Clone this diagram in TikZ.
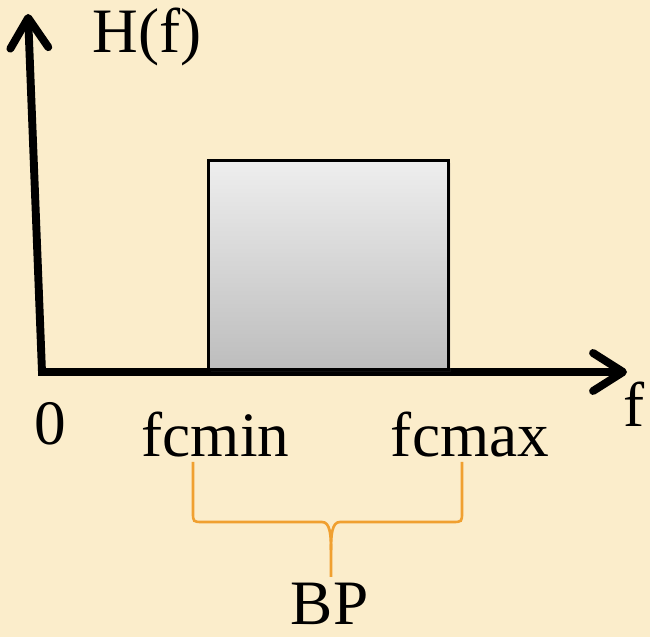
\documentclass[tikz,border=0pt]{standalone}
\usepackage{fontspec}
\setmainfont{Liberation Serif}
\usetikzlibrary{arrows.meta, positioning, calc, shadows}
\definecolor{bgcream}{HTML}{FBEDCB}
\definecolor{boxtop}{HTML}{EEEEEE}
\definecolor{boxbot}{HTML}{BDBDBD}
\definecolor{braceorange}{HTML}{F0A030}

\tikzset{
  lbl/.style={font=\fontsize{36}{40}\selectfont, inner sep=0pt, anchor=base},
  axisline/.style={black, line width=4.5pt, line join=miter},
  braceline/.style={braceorange, line width=1.5pt},
}

\begin{document}
\begin{tikzpicture}[>={Straight Barb[length=0.6cm, width=0.76cm, round]}]

% Background
\fill[bgcream] (0,0) rectangle (13,12.74);
\useasboundingbox (0,0) rectangle (13,12.74);

% Axes
\coordinate (origin) at (0.84,5.30);
\coordinate (ytip) at (0.56,12.46);
\coordinate (xtip) at (12.54,5.30);
\draw[axisline, <->] (ytip) -- (origin) -- (xtip);

% Pass band
\node[draw=black, line width=1.6pt, top color=boxtop, bottom color=boxbot,
  minimum width=4.80cm, minimum height=4.18cm, anchor=south west, inner sep=0pt,
  drop shadow={opacity=0.12, shadow xshift=0.05cm, shadow yshift=-0.05cm}]
  (passband) at (4.14,5.32) {};

% Labels
\node[lbl] (hf) at (2.94,11.68) {H(f)};
\node[lbl] (zero) at (1.00,3.84) {0};
\node[lbl] (flab) at (12.68,4.20) {f};
\node[lbl] (fcmin) at (4.31,3.60) {fcmin};
\node[lbl] (fcmax) at (9.40,3.60) {fcmax};
\node[lbl] (bp) at (6.59,0.26) {BP};

% Brace under fcmin .. fcmax
\draw[braceline]
  (3.86,3.50) -- (3.86,2.50) .. controls (3.86,2.30) .. (4.06,2.30)
  -- (6.44,2.30) .. controls (6.60,2.30) and (6.62,2.05) .. (6.62,1.74)
  -- (6.62,1.20);
\draw[braceline]
  (6.62,1.74) .. controls (6.62,2.05) and (6.64,2.30) .. (6.80,2.30)
  -- (9.04,2.30) .. controls (9.24,2.30) .. (9.24,2.50) -- (9.24,3.50);

\end{tikzpicture}
\end{document}
